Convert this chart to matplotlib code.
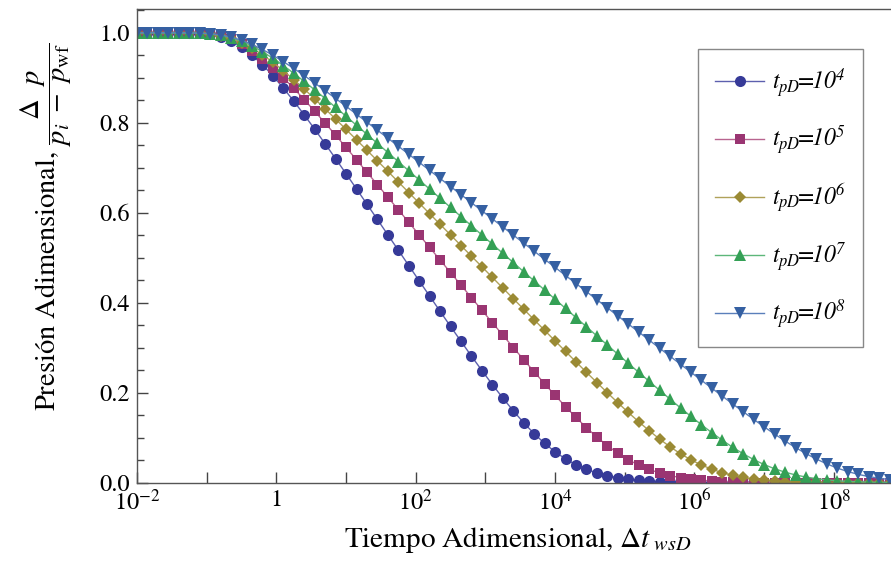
# plot.py
# Dimensionless pressure buildup curves for several producing times tpD.

import numpy as np
import matplotlib
matplotlib.use('Agg')  # no display
import matplotlib.pyplot as plt
from matplotlib.ticker import (FixedLocator, FixedFormatter, MultipleLocator,
                               NullLocator, FormatStrFormatter)

plt.rcParams['font.family'] = 'STIXGeneral'
plt.rcParams['mathtext.fontset'] = 'custom'
plt.rcParams['mathtext.rm'] = 'STIXGeneral'
plt.rcParams['mathtext.it'] = 'STIXGeneral:italic'
plt.rcParams['mathtext.bf'] = 'STIXGeneral:bold'
plt.rcParams['mathtext.cal'] = 'STIXGeneral:italic'  # used for italic digits
plt.rcParams['mathtext.fallback'] = 'stix'

# shut-in times, sampled every 0.15 decade starting at 1e-2
dt_exponents = -2.0 + 0.15 * np.arange(75)
dt = 10.0 ** dt_exponents

tpd_exponents = [4, 5, 6, 7, 8]

p_tpd4 = [1.000, 1.000, 1.000, 1.000, 1.000,
          0.9998, 0.9989, 0.9964, 0.9911, 0.9820,
          0.9685, 0.9507, 0.9293, 0.9046, 0.8774,
          0.8483, 0.8177, 0.7860, 0.7535, 0.7205,
          0.6871, 0.6533, 0.6194, 0.5854, 0.5513,
          0.5172, 0.4831, 0.4490, 0.4151, 0.3813,
          0.3477, 0.3146, 0.2818, 0.2498, 0.2186,
          0.1887, 0.1603, 0.1337, 0.1095, 0.0879,
          0.0692, 0.0534, 0.0406, 0.0303, 0.0224,
          0.0163, 0.0118, 0.0085, 0.0061, 0.0044,
          0.0031, 0.0022, 0.0016, 0.0011, 0.0008,
          0.0006, 0.0004, 0.0003, 0.0002, 0.0001,
          0.0, 0.0, 0.0, 0.0, 0.0,
          0.0, 0.0, 0.0, 0.0, 0.0,
          0.0, 0.0, 0.0, 0.0, 0.0]

p_tpd5 = [1.000, 1.000, 1.000, 1.000, 1.000,
          0.9998, 0.9991, 0.9971, 0.9928, 0.9853,
          0.9744, 0.9600, 0.9425, 0.9224, 0.9003,
          0.8766, 0.8517, 0.8259, 0.7995, 0.7727,
          0.7455, 0.7180, 0.6904, 0.6627, 0.6349,
          0.6070, 0.5791, 0.5512, 0.5232, 0.4953,
          0.4674, 0.4395, 0.4116, 0.3838, 0.3560,
          0.3284, 0.3010, 0.2738, 0.2469, 0.2204,
          0.1946, 0.1696, 0.1456, 0.1229, 0.1019,
          0.0829, 0.0661, 0.0517, 0.0397, 0.0300,
          0.0223, 0.0164, 0.0119, 0.0086, 0.0062,
          0.0044, 0.0032, 0.0023, 0.0016, 0.0011,
          0.0008, 0.0006, 0.0004, 0.0003, 0.0002,
          0.0001, 0.0, 0.0, 0.0, 0.0,
          0.0, 0.0, 0.0, 0.0, 0.0]

p_tpd6 = [1.000, 1.000, 1.000, 1.000, 1.000,
          0.9998, 0.9993, 0.9975, 0.9939, 0.9876,
          0.9784, 0.9663, 0.9515, 0.9346, 0.9160,
          0.8960, 0.8751, 0.8533, 0.8311, 0.8085,
          0.7855, 0.7624, 0.7392, 0.7158, 0.6923,
          0.6688, 0.6453, 0.6218, 0.5982, 0.5746,
          0.5510, 0.5274, 0.5038, 0.4803, 0.4567,
          0.4331, 0.4095, 0.3860, 0.3625, 0.3390,
          0.3156, 0.2922, 0.2690, 0.2459, 0.2231,
          0.2005, 0.1784, 0.1568, 0.1360, 0.1162,
          0.0975, 0.0804, 0.0649, 0.0514, 0.0400,
          0.0305, 0.0229, 0.0170, 0.0124, 0.0090,
          0.0065, 0.0047, 0.0033, 0.0024, 0.0017,
          0.0012, 0.0009, 0.0006, 0.0004, 0.0003,
          0.0002, 0.0001, 0.0001, 0.0, 0.0]

p_tpd7 = [1.000, 1.000, 1.000, 1.000, 1.000,
          0.9999, 0.9994, 0.9979, 0.9947, 0.9893,
          0.9813, 0.9708, 0.9581, 0.9435, 0.9274,
          0.9102, 0.8921, 0.8733, 0.8541, 0.8345,
          0.8147, 0.7947, 0.7746, 0.7544, 0.7342,
          0.7139, 0.6936, 0.6732, 0.6528, 0.6325,
          0.6121, 0.5917, 0.5713, 0.5509, 0.5305,
          0.5101, 0.4897, 0.4693, 0.4489, 0.4285,
          0.4082, 0.3878, 0.3674, 0.3470, 0.3267,
          0.3064, 0.2861, 0.2659, 0.2458, 0.2258,
          0.2059, 0.1862, 0.1668, 0.1479, 0.1294,
          0.1117, 0.0949, 0.0792, 0.0648, 0.0520,
          0.0409, 0.0316, 0.0240, 0.0179, 0.0132,
          0.0097, 0.0070, 0.0050, 0.0036, 0.0026,
          0.0018, 0.0013, 0.0009, 0.0007, 0.0005]

p_tpd8 = [1.000, 1.000, 1.000, 1.000, 1.000,
          0.9999, 0.9994, 0.9981, 0.9954, 0.9906,
          0.9836, 0.9743, 0.9631, 0.9503, 0.9361,
          0.9209, 0.9050, 0.8885, 0.8715, 0.8543,
          0.8369, 0.8193, 0.8016, 0.7838, 0.7660,
          0.7482, 0.7303, 0.7123, 0.6944, 0.6765,
          0.6585, 0.6406, 0.6226, 0.6047, 0.5867,
          0.5688, 0.5508, 0.5328, 0.5149, 0.4969,
          0.4790, 0.4610, 0.4431, 0.4251, 0.4071,
          0.3892, 0.3712, 0.3533, 0.3354, 0.3174,
          0.2995, 0.2816, 0.2638, 0.2459, 0.2282,
          0.2105, 0.1929, 0.1754, 0.1582, 0.1413,
          0.1247, 0.1087, 0.0933, 0.0788, 0.0653,
          0.0531, 0.0424, 0.0331, 0.0254, 0.0192,
          0.0143, 0.0105, 0.0076, 0.0055, 0.0040]

series = [p_tpd4, p_tpd5, p_tpd6, p_tpd7, p_tpd8]

marker_colors = ['#363a98', '#9a3572', '#9a8a34', '#34a055', '#3560a2']
line_colors = ['#5c60ae', '#b8648f', '#b0a25a', '#5cb77a', '#5a7fbb']
markers = ['o', 's', 'D', '^', 'v']
marker_sizes = [8.0, 7.0, 6.5, 8.5, 8.5]

x_tick_exp = list(range(-2, 9))
x_tick_labels = ['$10^{-2}$', '', '1', '', '$10^{2}$', '', '$10^{4}$', '',
                 '$10^{6}$', '', '$10^{8}$']

fig = plt.figure(figsize=(8.91, 5.63), dpi=100)
ax = fig.add_axes([137 / 891, 1 - 483 / 563, 1 - 137 / 891, 474 / 563])

for vals, p, mc, lc, m, ms in zip(series, tpd_exponents, marker_colors,
                                  line_colors, markers, marker_sizes):
    ax.plot(dt, vals, color=lc, lw=1.0, marker=m, ms=ms,
            markerfacecolor=mc, markeredgewidth=0,
            label=r'$t_{pD}\!\!=\!\!\mathcal{10}^{\mathcal{%d}}$' % p)

ax.set_xscale('log')
ax.set_xlim(1e-2, 10 ** 8.82)
ax.set_ylim(0, 1.053)

ax.xaxis.set_major_locator(FixedLocator([10.0 ** e for e in x_tick_exp]))
ax.xaxis.set_major_formatter(FixedFormatter(x_tick_labels))
ax.xaxis.set_minor_locator(NullLocator())
ax.yaxis.set_major_locator(MultipleLocator(0.2))
ax.yaxis.set_minor_locator(MultipleLocator(0.05))
ax.yaxis.set_major_formatter(FormatStrFormatter('%.1f'))

ax.tick_params(which='both', direction='in', top=False, right=False,
               color='#444444', width=1, labelsize=17.5)
ax.tick_params(which='major', length=8)
ax.tick_params(which='minor', length=5)
ax.tick_params(axis='y', pad=5)
ax.tick_params(axis='x', pad=5)

for side in ['left', 'bottom', 'top']:
    ax.spines[side].set_color('#555555')
    ax.spines[side].set_linewidth(1.0)
ax.spines['right'].set_visible(False)

ax.set_xlabel(r'Tiempo Adimensional, $\Delta t_{\ wsD}$', fontsize=21)
ax.xaxis.set_label_coords(0.505, -0.088)
ax.set_ylabel(r'Presión Adimensional, '
              r'$\dfrac{\Delta\ \ p}{p_i\ -\ p_{\mathrm{wf}}}$', fontsize=20.5)
ax.yaxis.set_label_coords(-0.084, 0.54)

leg = ax.legend(loc='upper right', bbox_to_anchor=(863 / 891, 1 - 49 / 563),
                bbox_transform=fig.transFigure, frameon=True, fancybox=False,
                edgecolor='#888888', framealpha=1, fontsize=17,
                handlelength=2.1, handletextpad=0.3, labelspacing=1.06,
                borderpad=0.72, borderaxespad=0)
leg.get_frame().set_linewidth(1.0)

fig.savefig('out.png', dpi=100)
